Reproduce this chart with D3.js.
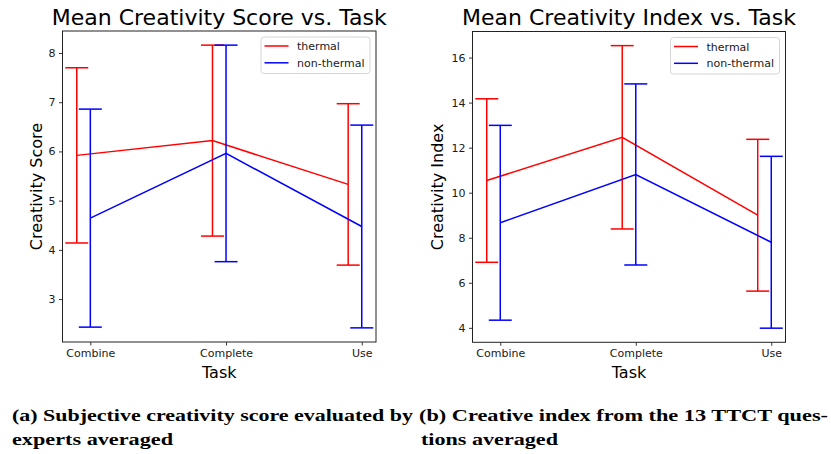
<!DOCTYPE html>
<html>
<head>
<meta charset="utf-8">
<script src="https://cdn.jsdelivr.net/npm/d3@7"></script>
<style>
  html, body { margin: 0; padding: 0; background: #fff; }
  svg { display: block; }
</style>
</head>
<body>
<svg id="fig" width="831" height="454"></svg>
<script>
// Task categories shared by both panels
const tasks = ["Combine", "Complete", "Use"];

// Panel (a): expert-rated creativity score, mean and error half-width
const scoreThermal = [5.92, 6.22, 5.33];
const scoreThermalErr = [1.78, 1.94, 1.64];
const scoreNonThermal = [4.645, 5.96, 4.475];
const scoreNonThermalErr = [2.215, 2.20, 2.06];

// Panel (b): TTCT creativity index, mean and error half-width
const indexThermal = [10.54, 12.46, 9.00];
const indexThermalErr = [3.63, 4.07, 3.37];
const indexNonThermal = [8.665, 10.81, 7.80];
const indexNonThermalErr = [4.325, 4.02, 3.815];

// Tick values
const scoreTicks = [3, 4, 5, 6, 7, 8];
const indexTicks = [4, 6, 8, 10, 12, 14, 16];

const seriesNames = ["thermal", "non-thermal"];
const seriesColors = ["#ff0000", "#0000ff"];
const thermalShift = -0.1;

const svg = d3.select("#fig");
const FONT = "'DejaVu Sans', sans-serif";

function panel(opts) {
  const { left, right, top, bottom, title, ylabel, series, ticks, ylabelX } = opts;
  const g = svg.append("g");

  // y-domain: data extent with 5% padding
  const lows = [], highs = [];
  series.forEach(s => s.mean.forEach((m, i) => { lows.push(m - s.err[i]); highs.push(m + s.err[i]); }));
  const lo = d3.min(lows), hi = d3.max(highs), pad = (hi - lo) * 0.05;
  const y = d3.scaleLinear().domain([lo - pad, hi + pad]).range([bottom, top]);
  const xlo = thermalShift, xhi = tasks.length - 1, xpad = (xhi - xlo) * 0.05;
  const x = d3.scaleLinear().domain([xlo - xpad, xhi + xpad]).range([left, right]);

  // axes
  const yAxis = d3.axisLeft(y).tickValues(ticks).tickSize(3.5).tickPadding(3.5).tickFormat(d3.format("d"));
  const xAxis = d3.axisBottom(x).tickValues(d3.range(tasks.length)).tickSize(3.5).tickPadding(3.5)
    .tickFormat(i => tasks[i]);

  const ya = g.append("g").attr("transform", `translate(${left},0)`).call(yAxis);
  const xa = g.append("g").attr("transform", `translate(0,${bottom})`).call(xAxis);
  [ya, xa].forEach(a => {
    a.select(".domain").remove();
    a.selectAll(".tick line").attr("stroke", "#222").attr("stroke-width", 0.9);
    a.selectAll(".tick text").attr("font-family", FONT).attr("font-size", 11).attr("fill", "#1a1a1a");
  });

  // series: error bars with connecting line
  series.forEach((s, k) => {
    const off = k === 0 ? thermalShift : 0;
    const sg = g.append("g");
    const line = d3.line().x((d, i) => x(i + off)).y(d => y(d));
    sg.append("path").datum(s.mean).attr("d", line)
      .attr("fill", "none").attr("stroke", s.color).attr("stroke-width", 1.5);
    s.mean.forEach((m, i) => {
      const cx = x(i + off);
      sg.append("line").attr("x1", cx).attr("x2", cx)
        .attr("y1", y(m - s.err[i])).attr("y2", y(m + s.err[i]))
        .attr("stroke", s.color).attr("stroke-width", 1.5);
      [m - s.err[i], m + s.err[i]].forEach(v => {
        sg.append("line").attr("x1", cx - 11.5).attr("x2", cx + 11.5)
          .attr("y1", y(v)).attr("y2", y(v))
          .attr("stroke", s.color).attr("stroke-width", 1.5);
      });
    });
  });

  // frame
  g.append("rect").attr("x", left).attr("y", top)
    .attr("width", right - left).attr("height", bottom - top)
    .attr("fill", "none").attr("stroke", "#222").attr("stroke-width", 1);

  // legend
  const lw = 109, lh = 36.5;
  const lx = right - 6 - lw, ly = top + 6;
  const lg = g.append("g");
  lg.append("rect").attr("x", lx).attr("y", ly).attr("width", lw).attr("height", lh)
    .attr("rx", 3).attr("fill", "#fff").attr("fill-opacity", 0.8)
    .attr("stroke", "#d5d5d5").attr("stroke-width", 1);
  series.forEach((s, k) => {
    const ry = ly + 9 + k * 16.8;
    lg.append("line").attr("x1", lx + 3.5).attr("x2", lx + 27.5)
      .attr("y1", ry).attr("y2", ry).attr("stroke", s.color).attr("stroke-width", 1.5);
    lg.append("text").attr("x", lx + 36).attr("y", ry + 4)
      .attr("font-family", FONT).attr("font-size", 11).attr("fill", "#1a1a1a").text(s.name);
  });

  // titles and labels
  g.append("text").attr("x", (left + right) / 2).attr("y", 25)
    .attr("text-anchor", "middle").attr("font-family", FONT).attr("font-size", 22)
    .attr("fill", "#000").text(title);
  g.append("text").attr("x", (left + right) / 2).attr("y", 377.5)
    .attr("text-anchor", "middle").attr("font-family", FONT).attr("font-size", 16)
    .attr("fill", "#000").text("Task");
  g.append("text").attr("transform", `translate(${ylabelX},${(top + bottom) / 2}) rotate(-90)`)
    .attr("text-anchor", "middle").attr("font-family", FONT).attr("font-size", 16)
    .attr("fill", "#000").text(ylabel);
}

panel({
  left: 62.5, right: 376, top: 31, bottom: 342,
  title: "Mean Creativity Score vs. Task", ylabel: "Creativity Score", ylabelX: 41.5,
  ticks: scoreTicks,
  series: [
    { name: seriesNames[0], color: seriesColors[0], mean: scoreThermal, err: scoreThermalErr },
    { name: seriesNames[1], color: seriesColors[1], mean: scoreNonThermal, err: scoreNonThermalErr }
  ]
});

panel({
  left: 472.5, right: 785.5, top: 31.5, bottom: 342.3,
  title: "Mean Creativity Index vs. Task", ylabel: "Creativity Index", ylabelX: 442.5,
  ticks: indexTicks,
  series: [
    { name: seriesNames[0], color: seriesColors[0], mean: indexThermal, err: indexThermalErr },
    { name: seriesNames[1], color: seriesColors[1], mean: indexNonThermal, err: indexNonThermalErr }
  ]
});

// sub-captions
const SERIF = "'Liberation Serif', 'Times New Roman', serif";
const captions = [
  { x: 12, y: 421, text: "(a) Subjective creativity score evaluated by", w: 401 },
  { x: 12, y: 445, text: "experts averaged", w: 161 },
  { x: 419, y: 421, text: "(b) Creative index from the 13 TTCT ques-", w: 409 },
  { x: 421, y: 445, text: "tions averaged", w: 137 }
];
svg.selectAll("text.cap").data(captions).join("text").attr("class", "cap")
  .attr("x", d => d.x).attr("y", d => d.y)
  .attr("font-family", SERIF).attr("font-weight", "bold").attr("font-size", 17.5)
  .attr("fill", "#000")
  .attr("textLength", d => d.w).attr("lengthAdjust", "spacingAndGlyphs")
  .text(d => d.text);
</script>
</body>
</html>
